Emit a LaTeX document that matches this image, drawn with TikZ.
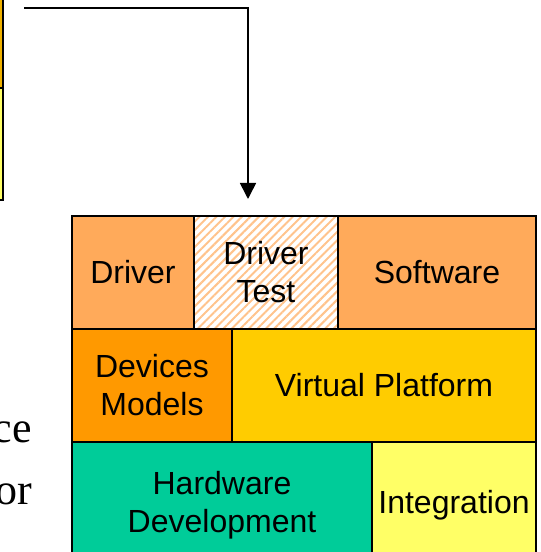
\documentclass[tikz,border=0pt]{standalone}
\usepackage{fontspec}
\setmainfont{Liberation Sans}
\newfontfamily\slideserif{Liberation Serif}
\usetikzlibrary{positioning,arrows.meta,patterns.meta}
\definecolor{swlightorange}{RGB}{255,170,90}
\definecolor{hatchorange}{RGB}{255,195,140}
\definecolor{devorange}{RGB}{255,153,0}
\definecolor{vpyellow}{RGB}{255,204,0}
\definecolor{hwgreen}{RGB}{0,204,153}
\definecolor{intyellow}{RGB}{255,255,102}
\definecolor{oldamber}{RGB}{240,178,0}

\tikzset{
  block/.style={draw, line width=1.6pt, rectangle, inner sep=0pt, outer sep=0pt,
    minimum height=113pt, align=center, font=\fontsize{32}{38}\selectfont},
}

\begin{document}
\begin{tikzpicture}[x=1pt,y=1pt]
\clip (0,0) rectangle (541,552);

% Cut-off boxes on the left edge
\draw[line width=1.6pt, fill=oldamber] (-30,570) rectangle (3,464);
\draw[line width=1.6pt, fill=intyellow] (-30,464) rectangle (3,352);

% Cut-off slide text
\node[anchor=base east, inner sep=0pt, font=\slideserif\fontsize{44}{62}\selectfont] (txtce) at (32,109) {ce};
\node[anchor=base east, inner sep=0pt, font=\slideserif\fontsize{44}{62}\selectfont] (txtor) at (32,47) {or};

% Top row
\node[block, fill=swlightorange, minimum width=122pt, anchor=north west] (driver) at (72,336) {Driver};
\node[block, pattern={Lines[angle=45,distance=6pt,line width=2pt]}, pattern color=hatchorange,
  minimum width=144pt, right=0pt of driver] (drvtest) {Driver\\Test};
\node[block, fill=swlightorange, minimum width=198pt, right=0pt of drvtest] (software) {Software};

% Middle row
\node[block, fill=devorange, minimum width=160pt, anchor=north west] (devices) at (driver.south west) {Devices\\Models};
\node[block, fill=vpyellow, minimum width=304pt, right=0pt of devices] (vplatform) {Virtual Platform};

% Bottom row (runs past the lower edge)
\node[block, fill=hwgreen, minimum width=300pt, minimum height=126pt, anchor=north west] (hwdev) at (devices.south west) {Hardware\\Development};
\node[block, fill=intyellow, minimum width=164pt, minimum height=126pt, right=0pt of hwdev] (integ) {Integration};

% Arrow
\coordinate (src) at (24,544);
\coordinate (tip) at (248,353);
\draw[line width=1.6pt, -{Triangle[length=16pt,width=16pt]}] (src) -| (tip);
\end{tikzpicture}
\end{document}
